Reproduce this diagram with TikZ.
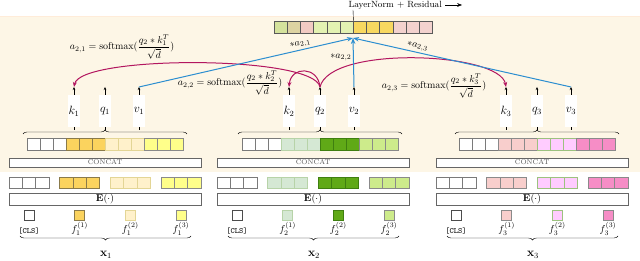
\documentclass[tikz,border=0pt]{standalone}
\usepackage{amsmath}
\usepackage{amssymb}
\usepackage{tikz}
\usetikzlibrary{
  arrows.meta,              % Stealth arrow tips
  calc,                     % coordinate calculations
  decorations.pathreplacing,% braces
  positioning               % relative placement
}
% panel and arrow colours
\definecolor{panel}{HTML}{FDF6E6}
\definecolor{attnred}{HTML}{B3165F}
\definecolor{mixblue}{HTML}{2B8ED0}
% fills of the three inputs (0 = [CLS], 1..3 = features)
\definecolor{c10}{HTML}{FFFFFF}
\definecolor{c11}{HTML}{FBD35E}
\definecolor{c12}{HTML}{FFF1CB}
\definecolor{c13}{HTML}{FFFF8A}
\definecolor{c20}{HTML}{FFFFFF}
\definecolor{c21}{HTML}{D5E8D4}
\definecolor{c22}{HTML}{60A917}
\definecolor{c23}{HTML}{CDEB8B}
\definecolor{c30}{HTML}{FFFFFF}
\definecolor{c31}{HTML}{F8CECC}
\definecolor{c32}{HTML}{FFCCFF}
\definecolor{c33}{HTML}{F68DC6}
% borders
\definecolor{b10}{HTML}{7A7A7A}
\definecolor{b11}{HTML}{8A7A4A}
\definecolor{b12}{HTML}{E3D595}
\definecolor{b13}{HTML}{8A8A8A}
\definecolor{b20}{HTML}{7A7A7A}
\definecolor{b21}{HTML}{B7D3A8}
\definecolor{b22}{HTML}{3F7F10}
\definecolor{b23}{HTML}{8A8A8A}
\definecolor{b30}{HTML}{7A7A7A}
\definecolor{b31}{HTML}{8A8A8A}
\definecolor{b32}{HTML}{9CC27F}
\definecolor{b33}{HTML}{8A8A8A}
% mixed output vector
\definecolor{t0}{HTML}{D4E29C}
\definecolor{t1}{HTML}{DDD3A2}
\definecolor{t2}{HTML}{F2CBC3}
\definecolor{t3}{HTML}{E3F2B2}
\definecolor{t4}{HTML}{E3F2B2}
\definecolor{t5}{HTML}{E3F2B2}
\definecolor{t6}{HTML}{F8D860}
\definecolor{t7}{HTML}{F8D860}
\definecolor{t8}{HTML}{F8D860}
\definecolor{t9}{HTML}{F3D2CE}
\definecolor{t10}{HTML}{F3D2CE}
\definecolor{t11}{HTML}{F3D2CE}
\tikzset{
  cell/.style={
    draw=gray,
    line width=0.5pt,
    inner sep=0pt,
    minimum width=13pt,
    minimum height=12pt
  },
  longbox/.style={
    draw=gray!80!black,
    fill=white,
    inner sep=0pt,
    minimum width=192pt
  },
  kqv/.style={
    fill=white,
    inner sep=0pt,
    minimum width=12pt,
    minimum height=32pt,
    font=\large
  },
  tok/.style={
    draw,
    line width=0.9pt,
    inner sep=0pt,
    minimum size=10pt
  },
  smallarrow/.style={
    -{Stealth[length=3pt, width=2.5pt]},
    line width=0.4pt
  },
  attn/.style={
    -{Stealth[length=5pt, width=4pt]},
    line width=1pt,
    color=attnred
  },
  mixarrow/.style={
    line width=1pt,
    color=mixblue
  },
  weight/.style={
    text=black,
    inner sep=1.5pt
  },
  brace up/.style={
    decorate,
    decoration={brace, amplitude=4pt}
  },
  brace down/.style={
    decorate,
    decoration={brace, amplitude=4pt, mirror}
  }
}

\begin{document}
\begin{tikzpicture}[x=1pt, y=-1pt, >=Stealth]
    \useasboundingbox (0, 0) rectangle (640, 261);

    % attention panel
    \fill[panel] (0, 16) rectangle (640, 172);
    \draw[orange!15] (0, 16) -- (640, 16);

    \foreach \g/\ux/\lx in {1/105/105, 2/320/313, 3/537/532} {
      % concatenated key / query / value vector
      \foreach \j in {0,...,3} {
        \foreach \i in {0,1,2} {
          \node[cell, fill=c\g\j, draw=b\g\j] (cat\g-\j\i) at ({\ux-78+6.5+39*\j+13*\i}, 144) {};
        }
      }
      \coordinate (cl\g) at (\ux-82, 134);
      \coordinate (cr\g) at (\ux+82, 134);
      \draw[brace up] (cl\g) -- (cr\g);

      % key, query, value
      \node[kqv] (k\g) at (\ux-31, 111) {$k_\g$};
      \node[kqv] (q\g) at (\ux, 111) {$q_\g$};
      \node[kqv] (v\g) at (\ux+34, 111) {$v_\g$};
      \coordinate (kt\g) at (\ux-31, 87);
      \coordinate (qt\g) at (\ux, 87);
      \coordinate (vt\g) at (\ux+34, 87);
      \coordinate (kb\g) at (\ux-31, 130);
      \coordinate (qb\g) at (\ux, 130);
      \coordinate (vb\g) at (\ux+34, 130);
      \draw[smallarrow] (k\g.north) -- (kt\g);
      \draw[smallarrow] (q\g.north) -- (qt\g);
      \draw[smallarrow] (v\g.north) -- (vt\g);
      \draw[line width=0.4pt] (k\g.south) -- (kb\g);
      \draw[line width=0.4pt] (q\g.south) -- (qb\g);
      \draw[line width=0.4pt] (v\g.south) -- (vb\g);

      \node[longbox, minimum height=9pt, font=\scriptsize, text=gray!70!black] (cc\g) at (\lx, 162.5) {CONCAT};

      % embedded tokens
      \foreach \j in {0,...,3} {
        \foreach \i in {0,1,2} {
          \node[cell, minimum width=13.33pt, minimum height=11pt, fill=c\g\j, draw=b\g\j] (emb\g-\j\i) at ({\lx-96+50.67*\j+6.67+13.33*\i}, 182.5) {};
        }
      }
      \node[longbox, minimum height=12pt] (enc\g) at (\lx, 199) {$\mathbf{E}(\cdot)$};

      % raw input tokens
      \node[tok, fill=c\g0, draw=gray!60!black] (tok\g-0) at (\lx-76, 215) {};
      \node[font=\footnotesize\ttfamily] (lab\g-0) at (\lx-76, 231) {[CLS]};
      \foreach \j in {1,2,3} {
        \node[tok, fill=c\g\j, draw=b\g\j] (tok\g-\j) at ({\lx-76+50.67*\j}, 215) {};
        \node (lab\g-\j) at ({\lx-76+50.67*\j}, 229) {$f_\g^{(\j)}$};
      }
      \coordinate (bl\g) at (\lx-85, 236);
      \coordinate (br\g) at (\lx+86, 236);
      \draw[brace down] (bl\g) -- (br\g);
      \node[font=\large] (x\g) at (\lx+1, 255) {$\mathbf{x}_\g$};
    }

    % mixed output vector
    \foreach \i in {0,...,11} {
      \node[cell, minimum width=13.2pt, fill=t\i, draw=gray!70!black] (top\i) at ({274+6.6+13.2*\i}, 27) {};
    }
    \coordinate (merge) at (353, 38);
    \coordinate (res) at (353, 10);
    \coordinate (out) at (462, 5);
    \draw (top5.north east) -- (res);
    \node[font=\small, anchor=west] (ln) at (345, 5) {LayerNorm + Residual};
    \draw[->] (ln.east) -- (out);

    % attention weights of q_2
    \node (f21) at (122, 47) {$a_{2,1} = \mathrm{softmax}(\dfrac{q_2 * k_1^T}{\sqrt{d}})$};
    \node (f22) at (230, 83) {$a_{2,2} = \mathrm{softmax}(\dfrac{q_2 * k_2^T}{\sqrt{d}})$};
    \node (f23) at (434, 86) {$a_{2,3} = \mathrm{softmax}(\dfrac{q_2 * k_3^T}{\sqrt{d}})$};

    \draw[attn] (qt2) .. controls (314, 55) and (80, 55) .. (kt1);
    \draw[attn] (qt2) .. controls (318, 66) and (291, 66) .. (kt2);
    \draw[attn] (qt2) .. controls (330, 45) and (500, 52) .. (kt3);

    % weighted values
    \draw[mixarrow, -{Stealth[length=6pt]}] (vt1) -- node[weight, sloped, above, pos=0.76] {$*a_{2,1}$} (merge);
    \draw[mixarrow, -{Stealth[length=6pt]}] (vt2) -- node[weight, left, pos=0.6] {$*a_{2,2}$} (merge);
    \draw[mixarrow, {Stealth[length=6pt]}-] (merge) -- node[weight, sloped, above, pos=0.29] {$*a_{2,3}$} (vt3);

  \end{tikzpicture}
\end{document}
